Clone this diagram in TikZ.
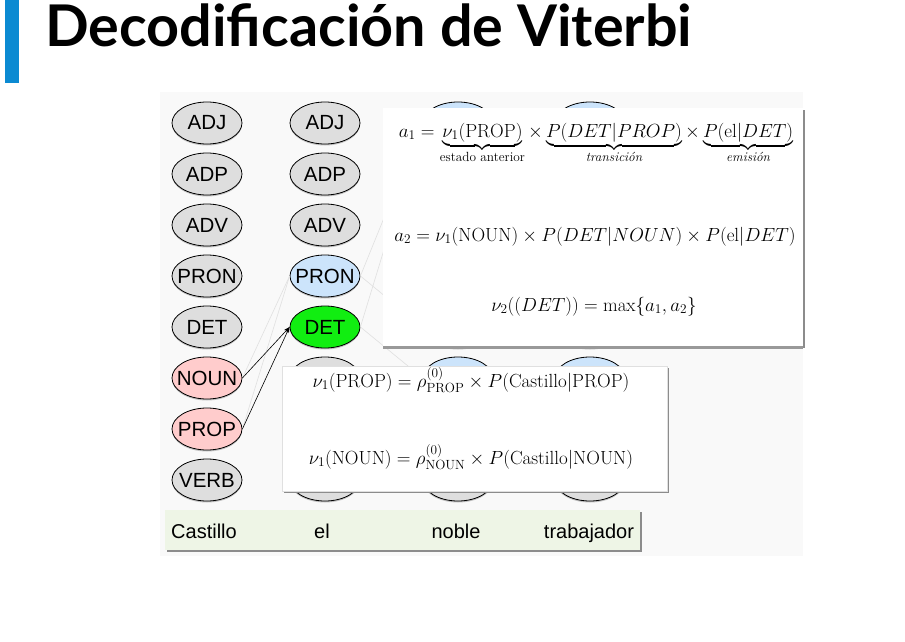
\documentclass[tikz,border=0pt]{standalone}
\usepackage{fix-cm}
\usepackage{amsmath}
\usepackage{fontspec}
\newfontfamily\titlefont{Lato}
\newfontfamily\tagfont{Liberation Sans}
\usetikzlibrary{positioning,shapes.geometric,arrows.meta,shadows}

\definecolor{barblue}{HTML}{0B8AD2}
\definecolor{taggray}{HTML}{DEDEDE}
\definecolor{tagpink}{HTML}{FFCCCC}
\definecolor{tagblue}{HTML}{CCE4FB}
\definecolor{taggreen}{HTML}{11EE11}
\definecolor{wordgreen}{HTML}{EEF5E6}

\begin{document}
\begin{tikzpicture}[x=1pt,y=-1pt]
\tikzset{
    postag/.style={ellipse, draw=black, line width=0.8pt, fill=taggray, minimum width=70pt, minimum height=42pt, inner sep=0pt,
        font=\tagfont\fontsize{20.5}{24}\selectfont,
        execute at begin node={\hbox to 0pt\bgroup\hss}, execute at end node={\hss\egroup},
        drop shadow={shadow xshift=0pt, shadow yshift=-1.5pt, opacity=0.45}},
    panel/.style={rectangle, fill=white, draw=black!12, inner sep=0pt,
        drop shadow={shadow xshift=1.5pt, shadow yshift=-2pt, fill=black!45, opacity=1}},
    formula/.style={anchor=base, inner sep=0pt, font=\fontsize{19}{22}\selectfont},
    word/.style={anchor=base, font=\tagfont\fontsize{20}{24}\selectfont, inner sep=0pt},
    faint/.style={black!12, line width=0.6pt},
    node distance=8.2pt
}
\useasboundingbox (0,0) rectangle (905,642);

% title
\fill[barblue] (5,0) rectangle (19,83);
\node[anchor=base west, inner sep=0pt, font=\titlefont\bfseries\fontsize{57.5}{66}\selectfont] (title) at (45,47) {Decodificación de Viterbi};

% trellis
\fill[black!2.5] (160,92) rectangle (803,556);

\node[postag] (adj1) at (207,123) {ADJ};
\node[postag, below=of adj1] (adp1) {ADP};
\node[postag, below=of adp1] (adv1) {ADV};
\node[postag, below=of adv1] (pron1) {PRON};
\node[postag, below=of pron1] (det1) {DET};
\node[postag, fill=tagpink, below=of det1] (noun1) {NOUN};
\node[postag, fill=tagpink, below=of noun1] (prop1) {PROP};
\node[postag, below=of prop1] (verb1) {VERB};

\node[postag] (adj2) at (325,123) {ADJ};
\node[postag, below=of adj2] (adp2) {ADP};
\node[postag, below=of adp2] (adv2) {ADV};
\node[postag, fill=tagblue, below=of adv2] (pron2) {PRON};
\node[postag, fill=taggreen, below=of pron2] (det2) {DET};
\node[postag, below=of det2] (noun2) {};
\node[postag, below=of noun2] (prop2) {};
\node[postag, below=of prop2] (verb2) {};

% columns hidden under the boxes
\node[postag, fill=tagblue] (adj3) at (458,123) {};
\node[postag, below=of adj3] (adp3) {};
\node[postag, below=of adp3] (adv3) {};
\node[postag, below=of adv3] (pron3) {};
\node[postag, below=of pron3] (det3) {};
\node[postag, fill=tagblue, below=of det3] (noun3) {};
\node[postag, below=of noun3] (prop3) {};
\node[postag, below=of prop3] (verb3) {};

\node[postag, fill=tagblue] (adj4) at (590,123) {};
\node[postag, below=of adj4] (adp4) {};
\node[postag, below=of adp4] (adv4) {};
\node[postag, below=of adv4] (pron4) {};
\node[postag, below=of pron4] (det4) {};
\node[postag, fill=tagblue, below=of det4] (noun4) {};
\node[postag, below=of noun4] (prop4) {};
\node[postag, below=of prop4] (verb4) {};

\draw[faint] (noun1.east) -- (pron2.west);
\draw[faint] (prop1.east) -- (pron2.west);
\draw[faint] (det2.east) -- (adj3.west);
\draw[faint] (pron2.east) -- (adj3.west);
\draw[faint] (pron2.east) -- (det3.west);
\draw[faint] (det2.east) -- (noun3.west);

\draw[-{Stealth[length=6pt,width=4pt]}, line width=0.6pt] (noun1.east) -- (det2.west);
\draw[-{Stealth[length=6pt,width=4pt]}, line width=0.6pt] (prop1.east) -- (det2.west);

% words
\node[panel, draw=none, fill=wordgreen, minimum width=475pt, minimum height=40pt] (words) at (402.5,530) {};
\node[word, xshift=-3pt] at (verb1 |- 0,538) {Castillo};
\node[word, xshift=-3pt] at (verb2 |- 0,538) {el};
\node[word, xshift=-2pt] at (verb3 |- 0,538) {noble};
\node[word, xshift=-1pt] at (verb4 |- 0,538) {trabajador};

% transition box
\node[panel, draw=none, drop shadow={shadow xshift=0pt, shadow yshift=-2.5pt, fill=black!40, opacity=1}, minimum width=420pt, minimum height=238pt] (trans) at (593,227) {};
\node[formula] (a1eq) at (596,137) {$a_1 = \underbrace{\nu_1(\mathrm{PROP})}_{\text{estado anterior}} \times \underbrace{P(DET|PROP)}_{\textit{transición}} \times \underbrace{P(\mathrm{el}|DET)}_{\textit{emisión}}$};
\node[formula] (a2eq) at (595,241) {$a_2 = \nu_1(\mathrm{NOUN}) \times P(DET|NOUN) \times P(\mathrm{el}|DET)$};
\node[formula] (maxeq) at (594,311) {$\nu_2((DET)) = \max\{a_1, a_2\}$};

% initial box
\node[panel, minimum width=385pt, minimum height=125pt] (init) at (474.5,428.5) {};
\node[formula] (propeq) at (471,387) {$\nu_1(\mathrm{PROP}) = \rho^{(0)}_{\mathrm{PROP}} \times P(\mathrm{Castillo}|\mathrm{PROP})$};
\node[formula] (nouneq) at (471,464) {$\nu_1(\mathrm{NOUN}) = \rho^{(0)}_{\mathrm{NOUN}} \times P(\mathrm{Castillo}|\mathrm{NOUN})$};
\end{tikzpicture}
\end{document}
